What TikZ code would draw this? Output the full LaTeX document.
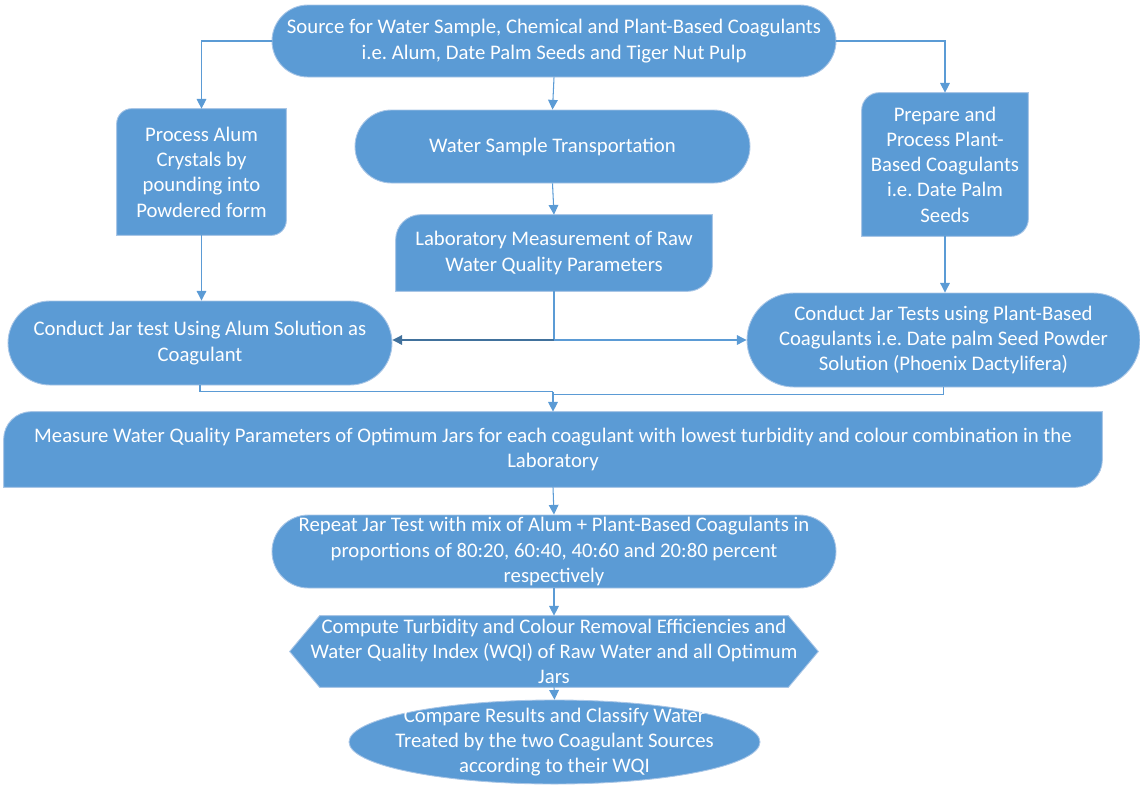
\documentclass[tikz,border=0pt]{standalone}
\usepackage{fontspec}
\setmainfont{Carlito}
\usetikzlibrary{shapes.misc,arrows.meta,backgrounds}
\definecolor{boxblue}{HTML}{5B9BD5}
\definecolor{boxedge}{HTML}{A9C6E6}
\definecolor{darkline}{HTML}{41719C}
\frenchspacing

\begin{document}
\begin{tikzpicture}[%
    every node/.style={text=white, align=center, inner sep=0pt,
      font=\fontsize{11.8}{14.4}\selectfont},
    stadium/.style={rounded rectangle, fill=boxblue, draw=boxedge, line width=0.5pt},
    plainbox/.style={rectangle},
    shapefill/.style={fill=boxblue, draw=boxedge, line width=0.5pt},
    arr/.style={draw=boxblue, line width=0.6pt, -{Triangle[length=5.5pt,width=5.5pt]}},
    link/.style={draw=boxblue, line width=0.6pt}]
  \useasboundingbox (0,0) rectangle (22.8,-15.7);

  \node[stadium, minimum width=11.28cm, minimum height=1.44cm] (src) at (11.08,-0.82)
    {Source for Water Sample, Chemical and Plant-Based Coagulants\\i.e. Alum, Date Palm Seeds and Tiger Nut Pulp};
  \node[plainbox, minimum width=3.38cm, minimum height=2.52cm] (alum) at (4.03,-3.44)
    {Process Alum\\Crystals by\\pounding into\\Powdered form};
  \node[stadium, minimum width=7.9cm, minimum height=1.46cm] (trans) at (11.05,-2.93)
    {Water Sample Transportation};
  \node[plainbox, minimum width=3.32cm, minimum height=2.86cm] (prep) at (18.9,-3.29)
    {Prepare and\\Process Plant-\\Based Coagulants\\i.e. Date Palm\\Seeds};
  \node[plainbox, minimum width=6.32cm, minimum height=1.52cm] (lab) at (11.08,-5.06)
    {Laboratory Measurement of Raw\\Water Quality Parameters};
  \node[stadium, minimum width=7.68cm, minimum height=1.68cm] (jaralum) at (4.0,-6.86)
    {Conduct Jar test Using Alum Solution as\\Coagulant};
  \node[stadium, minimum width=7.86cm, minimum height=1.88cm] (jarplant) at (18.87,-6.8)
    {Conduct Jar Tests using Plant-Based\\Coagulants i.e. Date palm Seed Powder\\Solution (Phoenix Dactylifera)};
  \node[plainbox, minimum width=21.96cm, minimum height=1.5cm] (meas) at (11.06,-8.99)
    {Measure Water Quality Parameters of Optimum Jars for each coagulant with lowest turbidity and colour combination in the\\Laboratory};
  \node[stadium, minimum width=11.28cm, minimum height=1.46cm] (rep) at (11.08,-11.03)
    {Repeat Jar Test with mix of Alum + Plant-Based Coagulants in\\proportions of 80:20, 60:40, 40:60 and 20:80 percent\\respectively};
  \node[plainbox, minimum width=10.56cm, minimum height=1.42cm] (comp) at (11.08,-13.03)
    {Compute Turbidity and Colour Removal Efficiencies and\\Water Quality Index (WQI) of Raw Water and all Optimum\\Jars};
  \node[plainbox, minimum width=8.22cm, minimum height=1.68cm] (cmpr) at (11.09,-14.84)
    {Compare Results and Classify Water\\Treated by the two Coagulant Sources\\according to their WQI};

  % shapes behind the text
  \begin{pgfonlayer}{background}
    \foreach \n/\r in {alum/0.3,prep/0.35,lab/0.5,meas/0.55}
      \filldraw[shapefill] (\n.south west) -- ([yshift=-\r cm]\n.north west)
        arc[start angle=180, end angle=90, radius=\r cm] -- (\n.north east)
        -- ([yshift=\r cm]\n.south east)
        arc[start angle=0, end angle=-90, radius=\r cm] -- cycle;
    \filldraw[shapefill] (comp.west) -- ([xshift=0.6cm]comp.north west)
      -- ([xshift=-0.6cm]comp.north east) -- (comp.east)
      -- ([xshift=-0.6cm]comp.south east) -- ([xshift=0.6cm]comp.south west) -- cycle;
    \filldraw[shapefill] (cmpr.center) ellipse [x radius=4.11cm, y radius=0.84cm];
  \end{pgfonlayer}

  % connectors
  \draw[arr] (src.west) -| (alum.north);
  \draw[arr] (src.east) -| (prep.north);
  \draw[arr] (src.south) -- (trans.north);
  \draw[arr] (trans.south) -- (lab.north);
  \draw[arr] (alum.south) -- (alum.south |- jaralum.north);
  \draw[arr] (prep.south) -- (prep.south |- jarplant.north);
  \coordinate (split) at (lab.south |- 0,-6.8);
  \draw[link] (lab.south) -- (split);
  \draw[arr, draw=darkline] (split) -- (split -| jaralum.east);
  \draw[arr] (split) -- (jarplant.west);
  \coordinate (merge) at ([yshift=0.4cm]meas.north);
  \draw[link] (jaralum.south) |- (merge);
  \draw[link] (jarplant.south) |- ([yshift=-0.06cm]merge);
  \draw[arr] (merge) -- (meas.north);
  \draw[arr] (meas.south) -- (rep.north);
  \draw[arr] (rep.south) -- (comp.north);
  \draw[arr] (comp.south) -- (cmpr.north);
\end{tikzpicture}
\end{document}
